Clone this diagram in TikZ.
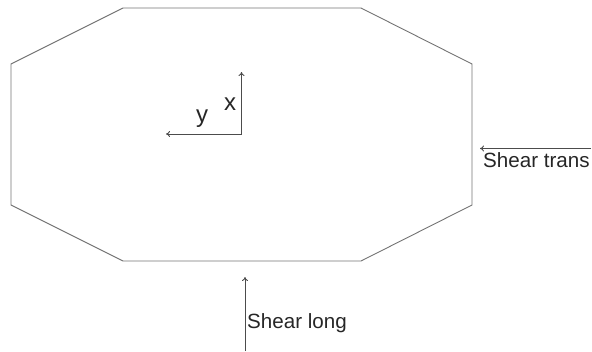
\documentclass[tikz,border=0pt]{standalone}
\usepackage{fontspec}
\setmainfont{Liberation Sans}
\usetikzlibrary{arrows.meta}
\begin{document}
\begin{tikzpicture}[x=1pt,y=-1pt,
  outline/.style={draw=black!55,line width=0.9pt,line join=miter},
  arr/.style={draw=black!70,line width=0.9pt,-{To[length=4pt,width=6pt]}},
  lbl/.style={inner sep=0pt,font=\fontsize{20.6}{22}\selectfont,text=black!85},
  axlbl/.style={inner sep=0pt,font=\fontsize{24}{26}\selectfont,text=black!85}]
\useasboundingbox (0,0) rectangle (592,351);
\coordinate (p1) at (123,8);
\coordinate (p2) at (361,8);
\coordinate (p3) at (472,64);
\coordinate (p4) at (472,205);
\coordinate (p5) at (361,261);
\coordinate (p6) at (123,261);
\coordinate (p7) at (11,205);
\coordinate (p8) at (11,64);
\draw[outline] (p1) -- (p2) -- (p3) -- (p4) -- (p5) -- (p6) -- (p7) -- (p8) -- cycle;
% axes
\coordinate (o) at (241.5,134);
\coordinate (xe) at (241.5,72);
\coordinate (ye) at (166,134);
\draw[arr] (o) -- (xe);
\draw[arr] (o) -- (ye);
\node[axlbl] (xl) at (230,104) {x};
\node[axlbl] (yl) at (202,119) {y};
% shear trans
\coordinate (ts) at (591,148.5);
\coordinate (te) at (480,148.5);
\draw[arr] (ts) -- (te);
\node[lbl,anchor=base west] (tl) at (483,167) {Shear trans};
% shear long
\coordinate (ls) at (245,351);
\coordinate (le) at (245,277);
\draw[arr] (ls) -- (le);
\node[lbl,anchor=base west] (ll) at (247,328) {Shear long};
\end{tikzpicture}
\end{document}
